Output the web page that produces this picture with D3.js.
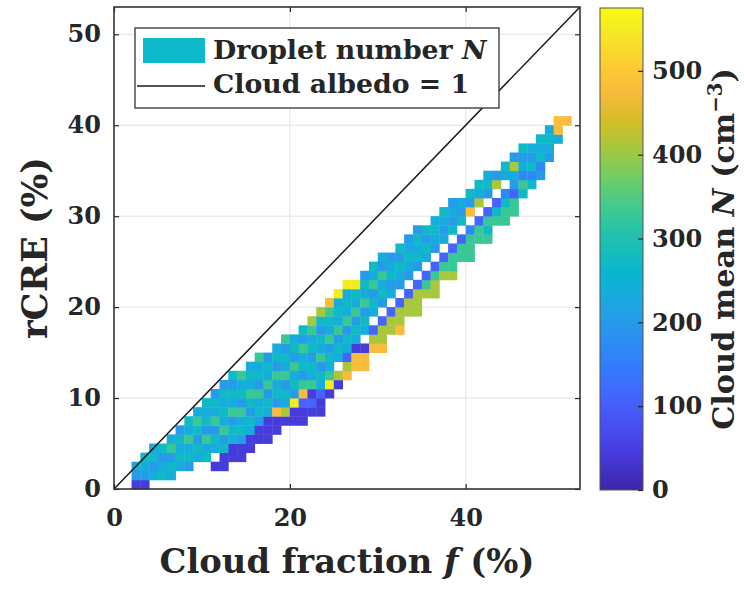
<!DOCTYPE html>
<html>
<head>
<meta charset="utf-8">
<script src="https://cdn.jsdelivr.net/npm/d3@7"></script>
<style>
  body { margin: 0; background: #fff; }
  svg { display: block; }
  text { font-family: "DejaVu Serif", serif; font-weight: bold; fill: #262626; }
</style>
</head>
<body>
<div id="chart"></div>
<script>
// cloud fraction bins (%), one column of rCRE bins per entry
const colX = [2, 3, 4, 5, 6, 7, 8, 9, 10, 11, 12, 13, 14, 15, 16, 17, 18, 19, 20, 21,
    22, 23, 24, 25, 26, 27, 28, 29, 30, 31, 32, 33, 34, 35, 36, 37, 38, 39, 40, 41,
    42, 43, 44, 45, 46, 47, 48, 49, 50, 51];
// lowest filled rCRE bin (%) of each column
const colY0 = [0, 0, 1, 1, 1, 2, 2, 3, 3, 2, 2, 3, 3, 4, 5, 5, 6, 7, 7, 7,
    8, 8, 10, 11, 12, 13, 13, 15, 15, 17, 17, 19, 19, 21, 21, 23, 23, 25, 25, 27,
    27, 29, 29, 30, 32, 33, 34, 36, 38, 40];
// level of each 1% bin going up the column, "." = empty bin
const colCells = [
    "034", "0345", "4354", "5435", "45364", "45453", "354645", "453564", "5463545",
    "0.4536453", "0053645453", "0045364535", "0035463546", "0045356454", "0035463546",
    "0004536453", "0083546354", "0745364536", "0093546354", "00186354635",
    "01064535467", "001453645357", "09645364568", "07.45364549", "87145364549",
    "8804536459", "880.4536453", "871.453645", "8771.354634", "771.43543",
    "8771.34535", "771.34543", "7771.35453", "761.4535", "7761.3454", "761.4345",
    "7661.5343", "661.534", "6662.835", "661.745", "6561.354", "651.73", "6652.45",
    "6613473", "562435", "52534", "32545", "3454", "488", "8"];
// cloud mean N (cm^-3) for each level digit
const nLevels = [45, 110, 170, 200, 235, 270, 330, 410, 480, 550];

const xTicks = [0, 20, 40];
const yTicks = [0, 10, 20, 30, 40, 50];
const cTicks = [0, 100, 200, 300, 400, 500];
const legendN = 265;

// parula, sampled every 4th entry of the 64-colour map
const parulaIdx = [0, 4, 8, 12, 16, 20, 24, 28, 32, 36, 40, 44, 48, 52, 56, 60, 63];
const parulaStops = ["#3e26a8", "#4537d5", "#484df0", "#4563fd", "#327cfc", "#2b91ef",
    "#20a5e3", "#08b5d0", "#19bfb6", "#37c897", "#64cd6f", "#9dc943", "#d1bf27",
    "#f8ba3d", "#fccf30", "#f5e924", "#f9fb15"];

const W = 744, H = 592;
const svg = d3.select("#chart").append("svg").attr("width", W).attr("height", H);

const x = d3.scaleLinear().domain([0, 53]).range([114, 580]);
const y = d3.scaleLinear().domain([0, 53]).range([489, 7]);
const cy = d3.scaleLinear().domain([0, 575]).range([490, 8]);
const color = d3.scaleLinear()
    .domain(parulaIdx.map(i => i / 63 * 575))
    .range(parulaStops)
    .interpolate(d3.interpolateRgb)
    .clamp(true);

// grid
const grid = svg.append("g").attr("stroke", "#e3e3e3").attr("stroke-width", 1);
grid.selectAll(".gx").data(xTicks.filter(d => d > 0)).join("line")
    .attr("x1", d => x(d)).attr("x2", d => x(d)).attr("y1", y(0)).attr("y2", y(53));
grid.selectAll(".gy").data(yTicks.filter(d => d > 0)).join("line")
    .attr("x1", x(0)).attr("x2", x(53)).attr("y1", d => y(d)).attr("y2", d => y(d));

// cells
let cells = [];
colX.forEach((cx, i) => {
    colCells[i].split("").forEach((ch, j) => {
        if (ch === ".") return;
        cells.push({x: cx, y: colY0[i] + j, n: nLevels[+ch]});
    });
});
svg.append("g").selectAll("rect").data(cells).join("rect")
    .attr("x", d => x(d.x))
    .attr("y", d => y(d.y + 1))
    .attr("width", d => x(d.x + 1) - x(d.x) + 0.4)
    .attr("height", d => y(d.y) - y(d.y + 1) + 0.4)
    .attr("fill", d => color(d.n));

// cloud albedo = 1
svg.append("line")
    .attr("x1", x(0)).attr("y1", y(0)).attr("x2", x(53)).attr("y2", y(53))
    .attr("stroke", "#1a1a1a").attr("stroke-width", 1.5);

// axes
function styleAxis(g) {
    g.select(".domain").remove();
    g.selectAll(".tick line").attr("stroke", "#262626").attr("stroke-width", 1.2);
    g.selectAll(".tick text").attr("fill", "#262626").style("font-size", "24px")
        .style("font-family", "'DejaVu Serif', serif").style("font-weight", "bold");
}
svg.append("g").attr("transform", `translate(0,${y(0)})`)
    .call(d3.axisBottom(x).tickValues(xTicks).tickSizeInner(-5).tickSizeOuter(0).tickPadding(20))
    .call(styleAxis);
svg.append("g").attr("transform", `translate(${x(0)},0)`)
    .call(d3.axisLeft(y).tickValues(yTicks).tickSizeInner(-5).tickSizeOuter(0).tickPadding(13))
    .call(styleAxis);
svg.append("g").attr("transform", `translate(0,${y(53)})`)
    .call(d3.axisTop(x).tickValues(xTicks).tickSizeInner(-5).tickSizeOuter(0).tickFormat(""))
    .call(styleAxis);
svg.append("g").attr("transform", `translate(${x(53)},0)`)
    .call(d3.axisRight(y).tickValues(yTicks).tickSizeInner(-5).tickSizeOuter(0).tickFormat(""))
    .call(styleAxis);

svg.append("rect")
    .attr("x", x(0)).attr("y", y(53))
    .attr("width", x(53) - x(0)).attr("height", y(0) - y(53))
    .attr("fill", "none").attr("stroke", "#333").attr("stroke-width", 1.6);

// colorbar
const defs = svg.append("defs");
const grad = defs.append("linearGradient").attr("id", "cbar")
    .attr("x1", 0).attr("y1", 1).attr("x2", 0).attr("y2", 0);
grad.selectAll("stop").data(d3.range(65)).join("stop")
    .attr("offset", d => d / 64)
    .attr("stop-color", d => color(d / 64 * 575));
const cbX = 600, cbW = 43;
svg.append("rect")
    .attr("x", cbX).attr("y", cy(575)).attr("width", cbW).attr("height", cy(0) - cy(575))
    .attr("fill", "url(#cbar)").attr("stroke", "#555").attr("stroke-width", 1);
svg.append("g").attr("transform", `translate(${cbX + cbW},0)`)
    .call(d3.axisLeft(cy).tickValues(cTicks).tickSizeInner(5).tickSizeOuter(0).tickFormat(""))
    .call(styleAxis);
svg.append("g").attr("transform", `translate(${cbX + cbW},0)`)
    .call(d3.axisRight(cy).tickValues(cTicks).tickSize(0).tickPadding(9))
    .call(styleAxis);

// fit a text to a width
function fit(t, target) {
    t.style("font-size", "20px");
    const w = t.node().getComputedTextLength();
    const fs = 20 * target / w;
    t.style("font-size", fs + "px");
    return fs;
}

// legend
const lg = svg.append("g");
lg.append("rect").attr("x", 135).attr("y", 28).attr("width", 364).attr("height", 80)
    .attr("fill", "#fff").attr("stroke", "#333").attr("stroke-width", 1.3);
lg.append("rect").attr("x", 143).attr("y", 38).attr("width", 62).attr("height", 25)
    .attr("fill", color(legendN));
lg.append("line").attr("x1", 137).attr("x2", 205).attr("y1", 86).attr("y2", 86)
    .attr("stroke", "#1a1a1a").attr("stroke-width", 1.5);
const t1 = lg.append("text").attr("x", 213).attr("y", 59);
t1.append("tspan").text("Droplet number ");
t1.append("tspan").style("font-style", "italic").text("N");
const t2 = lg.append("text").attr("x", 213).attr("y", 93).text("Cloud albedo = 1");
const f1 = fit(t1, 273), f2 = fit(t2, 257);
t1.style("font-size", ((f1 + f2) / 2) + "px");
t2.style("font-size", ((f1 + f2) / 2) + "px");

// axis titles
const xl = svg.append("text").attr("x", (x(0) + x(53)) / 2).attr("y", 573)
    .attr("text-anchor", "middle");
xl.append("tspan").text("Cloud fraction ");
xl.append("tspan").style("font-style", "italic").text("f");
xl.append("tspan").text(" (%)");
fit(xl, 375);

const yl = svg.append("text").attr("text-anchor", "middle")
    .attr("transform", `translate(47,${(y(0) + y(53)) / 2}) rotate(-90)`)
    .text("rCRE (%)");
fit(yl, 182);

const cl = svg.append("text").attr("text-anchor", "middle")
    .attr("transform", `translate(734,${(cy(0) + cy(575)) / 2}) rotate(-90)`);
cl.append("tspan").text("Cloud mean ");
cl.append("tspan").style("font-style", "italic").text("N");
cl.append("tspan").text(" (cm");
cl.append("tspan").attr("baseline-shift", "super").style("font-size", "65%").text("\u22123");
cl.append("tspan").text(")");
fit(cl, 362);
</script>
</body>
</html>
